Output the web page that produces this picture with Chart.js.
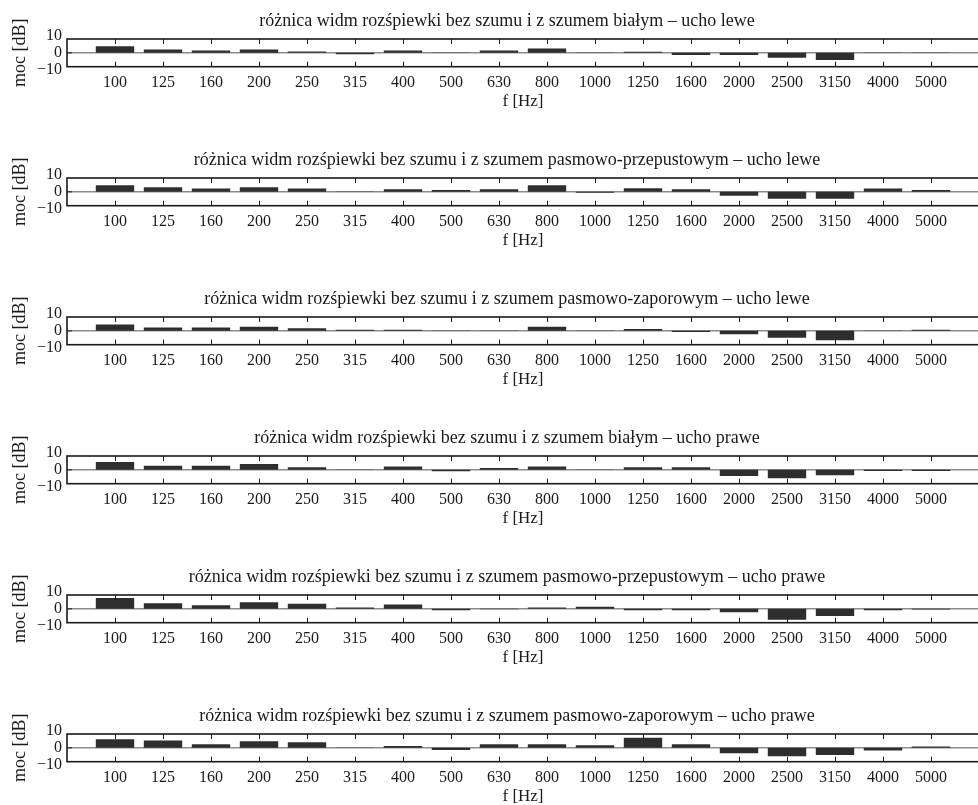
<!DOCTYPE html>
<html>
<head>
<meta charset="utf-8">
<script src="https://cdn.jsdelivr.net/npm/chart.js@4"></script>
<style>
  html, body { margin: 0; padding: 0; background: #fff; width: 978px; height: 805px; overflow: hidden; }
  #wrap { position: relative; width: 978px; height: 805px; overflow: hidden; }
  .panel { position: absolute; left: 0; }
</style>
</head>
<body>
<div id="wrap"></div>
<script>
// Third-octave band centre frequencies (x categories)
const freqLabels = ['100','125','160','200','250','315','400','500','630','800',
                    '1000','1250','1600','2000','2500','3150','4000','5000'];

// y-axis tick values [dB]
const yTicks = [-10, 0, 10];

// Panel titles
const panelTitles = [
  'różnica widm rozśpiewki bez szumu i z szumem białym – ucho lewe',
  'różnica widm rozśpiewki bez szumu i z szumem pasmowo-przepustowym – ucho lewe',
  'różnica widm rozśpiewki bez szumu i z szumem pasmowo-zaporowym – ucho lewe',
  'różnica widm rozśpiewki bez szumu i z szumem białym – ucho prawe',
  'różnica widm rozśpiewki bez szumu i z szumem pasmowo-przepustowym – ucho prawe',
  'różnica widm rozśpiewki bez szumu i z szumem pasmowo-zaporowym – ucho prawe'
];

// Spectrum differences [dB] per band
const leftWhite     = [3.8, 1.9, 1.3, 1.9, 0.8, -0.8, 1.3, 0.2, 1.3, 2.5, 0.2, 0.7, -1.2, -1.2, -2.9, -4.2, 0.2, 0.2];
const leftBandPass  = [3.8, 2.7, 1.9, 2.7, 1.9, 0.2, 1.5, 1.1, 1.5, 3.8, -0.5, 2.1, 1.5, -2.3, -4.0, -4.0, 1.9, 1.1];
const leftBandStop  = [3.7, 1.9, 1.9, 2.3, 1.5, 0.6, 0.6, 0.2, 0.2, 2.3, 0.2, 1.1, -0.7, -1.9, -4.0, -5.5, 0.2, 0.6];
const rightWhite    = [4.6, 2.3, 2.3, 3.4, 1.5, 0.2, 1.9, -0.8, 1.0, 1.9, 0.2, 1.5, 1.5, -3.5, -4.8, -3.1, -0.6, -0.6];
const rightBandPass = [6.2, 3.3, 2.1, 3.8, 2.9, 0.8, 2.5, -0.8, -0.3, 0.8, 1.2, -0.8, -0.8, -1.9, -6.3, -4.2, -0.8, -0.4];
const rightBandStop = [5.0, 4.2, 2.1, 3.8, 3.3, 0.2, 1.0, -1.2, 2.1, 2.1, 1.5, 5.8, 2.1, -3.1, -4.8, -4.2, -1.5, 0.8];

const panelSeries = [leftWhite, leftBandPass, leftBandStop, rightWhite, rightBandPass, rightBandStop];

const SERIF = "'Liberation Serif', 'DejaVu Serif', serif";
const FONT = { family: SERIF, size: 16 };
const TITLE_FONT = { family: SERIF, size: 18, weight: 'normal' };
const YTITLE_FONT = { family: SERIF, size: 18 };
const INK = '#1a1a1a';
const PANEL_STEP = 138.9;
const CANVAS_W = 1024;
const CANVAS_H = 112;
const PAD_LEFT = 35;     // outer padding so the centred title sits over the axes
const AXIS_LEFT = 67;    // x pixel of the left edge of the plotting box

// Box frame, zero baseline and inward tick marks
const framePlugin = {
  id: 'frame',
  beforeDatasetsDraw(chart) {
    const { ctx, chartArea: a, scales: { y } } = chart;
    const y0 = y.getPixelForValue(0);
    ctx.save();
    ctx.strokeStyle = '#8c8c8c';
    ctx.lineWidth = 1.5;
    ctx.beginPath();
    ctx.moveTo(a.left, y0);
    ctx.lineTo(a.right, y0);
    ctx.stroke();
    ctx.restore();
  },
  afterDatasetsDraw(chart) {
    const { ctx, chartArea: a, scales: { x, y } } = chart;
    const tl = 5;
    ctx.save();
    ctx.strokeStyle = INK;
    ctx.lineWidth = 1;
    ctx.beginPath();
    x.ticks.forEach(t => {
      const px = Math.round(x.getPixelForValue(t.value)) + 0.5;
      ctx.moveTo(px, a.top);
      ctx.lineTo(px, a.top + tl);
      ctx.moveTo(px, a.bottom);
      ctx.lineTo(px, a.bottom - tl);
    });
    const y0 = y.getPixelForValue(0);
    ctx.moveTo(a.left, y0);
    ctx.lineTo(a.left + tl, y0);
    ctx.stroke();
    ctx.lineWidth = 1.6;
    ctx.strokeRect(a.left, a.top, a.right - a.left, a.bottom - a.top);
    ctx.restore();
  }
};

const wrap = document.getElementById('wrap');

panelSeries.forEach((values, idx) => {
  const div = document.createElement('div');
  div.className = 'panel';
  div.style.top = (idx * PANEL_STEP) + 'px';
  div.style.width = CANVAS_W + 'px';
  div.style.height = CANVAS_H + 'px';
  const canvas = document.createElement('canvas');
  canvas.width = CANVAS_W;
  canvas.height = CANVAS_H;
  div.appendChild(canvas);
  wrap.appendChild(div);

  new Chart(canvas, {
    type: 'bar',
    data: {
      datasets: [{
        data: values.map((v, i) => ({ x: i + 1, y: v })),
        backgroundColor: '#2e2e2e',
        borderWidth: 0,
        barPercentage: 0.8,
        categoryPercentage: 1
      }]
    },
    options: {
      responsive: false,
      animation: false,
      devicePixelRatio: 1,
      layout: { padding: { left: PAD_LEFT, right: 45, top: 0, bottom: 0 } },
      plugins: {
        legend: { display: false },
        tooltip: { enabled: false },
        title: {
          display: true,
          text: panelTitles[idx],
          color: INK,
          font: TITLE_FONT,
          padding: { top: 10.2, bottom: 7.2 }
        }
      },
      scales: {
        x: {
          type: 'linear',
          min: 0,
          max: 19,
          offset: false,
          grid: { display: false, drawTicks: false },
          border: { display: false },
          afterBuildTicks: s => { s.ticks = freqLabels.map((_, i) => ({ value: i + 1 })); },
          ticks: {
            autoSkip: false,
            maxRotation: 0,
            minRotation: 0,
            padding: 6,
            color: INK,
            font: FONT,
            callback: v => freqLabels[v - 1]
          },
          title: {
            display: true,
            text: 'f [Hz]',
            color: INK,
            font: { family: SERIF, size: 17 },
            padding: { top: 0, bottom: 0 }
          },
          afterFit: s => { s.height = 45.3; }
        },
        y: {
          min: -8,
          max: 8,
          grid: { display: false, drawTicks: false },
          border: { display: false },
          afterBuildTicks: s => { s.ticks = yTicks.map(v => ({ value: v })); },
          ticks: {
            autoSkip: false,
            padding: 5,
            color: INK,
            font: FONT,
            callback: v => (v < 0 ? '\u2212' + Math.abs(v) : String(v))
          },
          title: {
            display: true,
            text: 'moc [dB]',
            color: INK,
            font: YTITLE_FONT,
            // rotated label centred about 20 px from the canvas edge
            padding: { top: 20 - PAD_LEFT - 10.8, bottom: 0 }
          },
          afterFit: s => { s.width = AXIS_LEFT - PAD_LEFT; }
        }
      }
    },
    plugins: [framePlugin]
  });
});
</script>
</body>
</html>
